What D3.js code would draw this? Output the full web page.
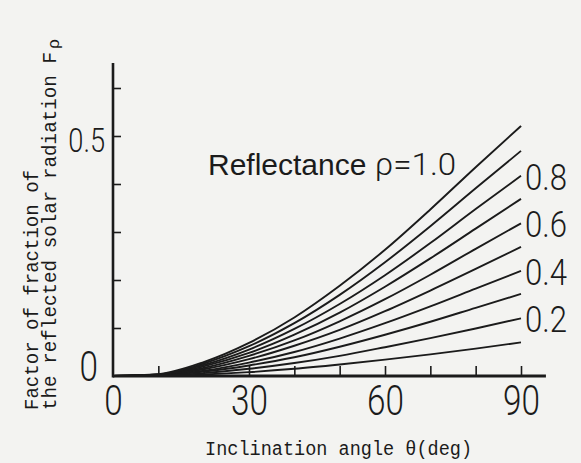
<!DOCTYPE html>
<html>
<head>
<meta charset="utf-8">
<script src="https://cdn.jsdelivr.net/npm/d3@7"></script>
<style>
  body { margin: 0; background: #f3f3f1; }
  svg { display: block; }
</style>
</head>
<body>
<div id="chart-area"></div>
<script>
// inclination angle (deg)
const angles = [0, 10, 20, 30, 40, 50, 60, 70, 80, 90]
// factor of fraction of reflected solar radiation
const rho10 = [0, 0.004, 0.029, 0.069, 0.122, 0.188, 0.263, 0.347, 0.435, 0.521]
const rho09 = [0, 0.003, 0.026, 0.062, 0.110, 0.169, 0.237, 0.312, 0.391, 0.469]
const rho08 = [0, 0.003, 0.023, 0.055, 0.098, 0.150, 0.210, 0.277, 0.348, 0.417]
const rho07 = [0, 0.002, 0.020, 0.048, 0.086, 0.132, 0.186, 0.245, 0.307, 0.369]
const rho06 = [0, 0.002, 0.017, 0.042, 0.074, 0.114, 0.160, 0.211, 0.265, 0.318]
const rho05 = [0, 0.002, 0.014, 0.035, 0.063, 0.096, 0.135, 0.178, 0.223, 0.269]
const rho04 = [0, 0.001, 0.011, 0.028, 0.050, 0.078, 0.110, 0.145, 0.182, 0.219]
const rho03 = [0, 0.001, 0.009, 0.022, 0.039, 0.061, 0.086, 0.113, 0.142, 0.171]
const rho02 = [0, 0.001, 0.006, 0.015, 0.027, 0.042, 0.060, 0.079, 0.099, 0.120]
const rho01 = [0, 0.000, 0.003, 0.008, 0.015, 0.024, 0.034, 0.045, 0.057, 0.070]
const reflectances = [1.0, 0.9, 0.8, 0.7, 0.6, 0.5, 0.4, 0.3, 0.2, 0.1]
const labelledRho = [0.8, 0.6, 0.4, 0.2]
// axes
const xTicks = [10, 20, 30, 40, 50, 60, 70, 80, 90]
const xTickLabels = [0, 30, 60, 90]
const yTicks = [0.1, 0.2, 0.3, 0.4, 0.5, 0.6]
const yTickLabels = [0, 0.5]

const series = [rho10, rho09, rho08, rho07, rho06, rho05, rho04, rho03, rho02, rho01]
  .map((vals, i) => ({ rho: reflectances[i], values: vals.map((v, j) => ({ a: angles[j], f: v })) }))

const WIDTH = 581
const HEIGHT = 463
const INK = "#1b1b1b"
const DIGITS = "Roboto, 'Liberation Sans', sans-serif"
const MONO = "'Liberation Mono', 'DejaVu Sans Mono', monospace"

// the figure uses a thin condensed face for numbers: squeeze a normal one
function condensed(sel, size, stretch = 1) {
  sel.attr("font-family", DIGITS)
    .attr("font-weight", 300)
    .attr("font-size", size + "px")
    .attr("lengthAdjust", "spacingAndGlyphs")
    .attr("textLength", function() {
      const s = this.textContent
      let w = 0
      for (const ch of s) w += (ch === "." ? 0.2 : ch === "=" ? 0.5 : 0.44)
      return w * size * stretch
    })
}

const svg = d3.select("#chart-area").append("svg")
  .attr("width", WIDTH)
  .attr("height", HEIGHT)

svg.append("rect")
  .attr("width", WIDTH)
  .attr("height", HEIGHT)
  .attr("fill", "#f3f3f1")

const x = d3.scaleLinear().domain([0, 90]).range([113, 521])
const y = d3.scaleLinear().domain([0, 0.6]).range([376, 88])

// curves
const line = d3.line()
  .x(d => x(d.a))
  .y(d => y(d.f))
  .curve(d3.curveMonotoneX)

svg.append("g").selectAll("path")
  .data(series)
  .enter().append("path")
  .attr("d", d => line(d.values))
  .attr("fill", "none")
  .attr("stroke", INK)
  .attr("stroke-width", 1.9)

// axis lines
svg.append("line")
  .attr("x1", x(0)).attr("x2", x(95.5))
  .attr("y1", y(0)).attr("y2", y(0))
  .attr("stroke", INK).attr("stroke-width", 3)
svg.append("line")
  .attr("x1", x(0)).attr("x2", x(0))
  .attr("y1", y(0) + 1.5).attr("y2", y(0.652))
  .attr("stroke", INK).attr("stroke-width", 2.6)

// inward ticks
const xTickGroup = svg.append("g")
  .attr("transform", `translate(0, ${y(0)})`)
  .call(d3.axisBottom(x).tickValues(xTicks).tickSize(-10).tickFormat(""))
xTickGroup.select(".domain").remove()
xTickGroup.selectAll("line").attr("stroke", INK).attr("stroke-width", 1.6)

const yTickGroup = svg.append("g")
  .attr("transform", `translate(${x(0)}, 0)`)
  .call(d3.axisLeft(y).tickValues(yTicks).tickSize(-8).tickFormat(""))
yTickGroup.select(".domain").remove()
yTickGroup.selectAll("line").attr("stroke", INK).attr("stroke-width", 1.6)

// tick labels
const xLabelGroup = svg.append("g")
  .attr("transform", `translate(0, ${y(0)})`)
  .call(d3.axisBottom(x).tickValues(xTickLabels).tickSize(0).tickPadding(9).tickFormat(d3.format("d")))
xLabelGroup.select(".domain").remove()
xLabelGroup.selectAll("text")
  .attr("fill", INK)
  .call(condensed, 42)

const yLabelGroup = svg.append("g")
  .attr("transform", `translate(${x(0)}, 0)`)
  .call(d3.axisLeft(y).tickValues(yTickLabels).tickSize(0).tickFormat(d => d === 0 ? "0" : d3.format(".1f")(d)))
yLabelGroup.select(".domain").remove()
yLabelGroup.selectAll("text")
  .attr("fill", INK)
  .each(function(d) { d3.select(this).call(condensed, d === 0 ? 42 : 34) })
  .attr("x", d => d === 0 ? -15 : -8)
  .attr("dy", d => d === 0 ? "0.1em" : "0.45em")

// reflectance labels at the right end of the curves
svg.append("g").selectAll("text")
  .data(series.filter(s => labelledRho.includes(s.rho)))
  .enter().append("text")
  .attr("x", d => x(90) + 4)
  .attr("y", d => y(d.values[d.values.length - 1].f) + 14)
  .attr("fill", INK)
  .text(d => d3.format(".1f")(d.rho))
  .call(condensed, 36, 1.08)

const topLabel = svg.append("text")
  .attr("x", 208)
  .attr("y", 175)
  .attr("font-family", "'Liberation Sans', sans-serif")
  .attr("font-size", "30px")
  .attr("fill", INK)
topLabel.append("tspan").text("Reflectance ")
topLabel.append("tspan").text("ρ=" + d3.format(".1f")(reflectances[0]))
  .call(condensed, 31, 1.3)

// axis titles
svg.append("text")
  .attr("x", 205)
  .attr("y", 455)
  .attr("font-family", MONO)
  .attr("font-size", "20px")
  .attr("textLength", 267)
  .attr("lengthAdjust", "spacingAndGlyphs")
  .attr("fill", INK)
  .text("Inclination angle θ(deg)")

const yTitle = svg.append("g")
  .attr("transform", "rotate(-90)")
  .attr("font-family", MONO)
  .attr("font-size", "20px")
  .attr("fill", INK)
yTitle.append("text").attr("x", -410).attr("y", 38)
  .attr("textLength", 240).attr("lengthAdjust", "spacingAndGlyphs")
  .text("Factor of fraction of")
yTitle.append("text").attr("x", -410).attr("y", 56)
  .attr("textLength", 358).attr("lengthAdjust", "spacingAndGlyphs")
  .text("the reflected solar radiation F")
yTitle.append("text").attr("x", -49).attr("y", 59)
  .attr("font-size", "17px")
  .text("ρ")
</script>
</body>
</html>
